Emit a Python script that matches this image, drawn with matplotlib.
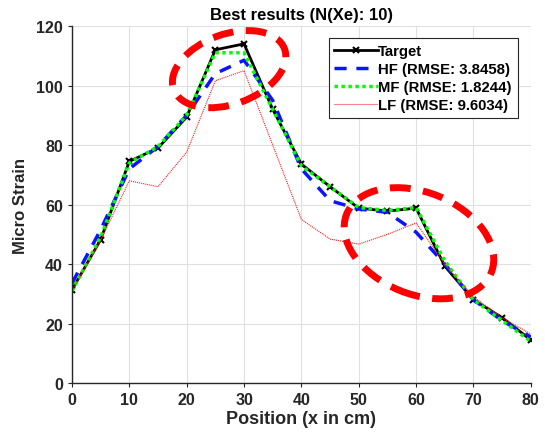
import matplotlib
matplotlib.use("Agg")
import matplotlib.pyplot as plt
from matplotlib.patches import Ellipse
from matplotlib.transforms import ScaledTranslation
import numpy as np

plt.rcParams['font.family'] = ['Liberation Sans', 'DejaVu Sans']
plt.rcParams['font.weight'] = 'bold'

# data
position = [0, 5, 10, 15, 20, 25, 30, 35, 40, 45, 50, 55, 60, 65, 70, 75, 80]
target = [31.3, 48.2, 74.5, 79.0, 89.4, 112.0, 114.0, 92.0, 73.6, 66.0, 58.8, 57.8, 58.8, 39.3, 28.0, 22.0, 14.5]
hf = [33.5, 51.5, 72.0, 79.5, 90.0, 104.0, 108.5, 95.0, 72.0, 61.3, 58.5, 57.4, 50.7, 40.0, 28.0, 21.0, 15.5]
mf = [31.0, 49.0, 74.0, 79.5, 90.0, 111.0, 111.0, 92.0, 73.0, 66.0, 59.0, 58.0, 59.0, 41.0, 28.0, 21.0, 14.0]
lf = [31.0, 48.0, 68.0, 66.0, 77.6, 101.6, 105.0, 80.0, 55.0, 48.4, 46.7, 50.0, 53.8, 40.0, 29.0, 22.0, 16.5]
labels = ['Target', 'HF (RMSE: 3.8458)', 'MF (RMSE: 1.8244)', 'LF (RMSE: 9.6034)']
title = 'Best results (N(Xe): 10)'

fig = plt.figure(figsize=(5.45, 4.39), dpi=100)
ax = fig.add_axes([0.132, 0.125, 0.842, 0.8135])

ax.plot(position, target, color='black', lw=2, marker='x', ms=5, mew=1.5, label=labels[0])
ax.plot(position, hf, color='#0a14ff', lw=2.5, ls=(0, (3.5, 2.8)), label=labels[1])
ax.plot(position, mf, color='#00ff00', lw=2.5, ls=(0, (1, 1)), label=labels[2])
ax.plot(position, lf, color='#ff2020', lw=0.8, ls=(0, (1, 0.8)), label=labels[3])

# highlight ellipses, sized in inches around a data centre
for (cx, cy), w, h, ang in [((27.4, 105.5), 1.18, 0.70, 20), ((60.5, 47.0), 1.56, 1.02, -22)]:
    tr = fig.dpi_scale_trans + ScaledTranslation(cx, cy, ax.transData)
    e = Ellipse((0, 0), w, h, angle=ang, transform=tr, fill=False,
                edgecolor='#ff0000', lw=5, ls=(0, (3, 1.8)), zorder=10)
    ax.add_patch(e)

ax.set_xlim(0, 80)
ax.set_ylim(0, 120)
ax.set_xticks(np.arange(0, 81, 10))
ax.set_yticks(np.arange(0, 121, 20))
ax.grid(True, color='#e0e0e0', lw=0.8)
ax.set_axisbelow(True)
for s in ['top', 'right']:
    ax.spines[s].set_visible(False)
for s in ['left', 'bottom']:
    ax.spines[s].set_color('#262626')
    ax.spines[s].set_linewidth(1.0)
ax.tick_params(labelsize=11.5, length=3, color='#262626', labelcolor='#262626')

ax.set_title(title, fontsize=12, fontweight='bold', pad=5)
ax.set_xlabel('Position (x in cm)', fontsize=13, fontweight='bold', color='#262626', labelpad=2)
ax.set_ylabel('Micro Strain', fontsize=12, fontweight='bold', color='#262626', labelpad=6)

leg = ax.legend(loc='upper right', bbox_to_anchor=(0.978, 0.975), fontsize=10.7,
                fancybox=False, framealpha=1, edgecolor='#262626',
                borderpad=0.4, labelspacing=0.27, handlelength=2.9, handletextpad=0.05,
                borderaxespad=0.2)
leg.get_frame().set_linewidth(0.8)
leg.set_zorder(5)

fig.savefig('out.png', dpi=100)
